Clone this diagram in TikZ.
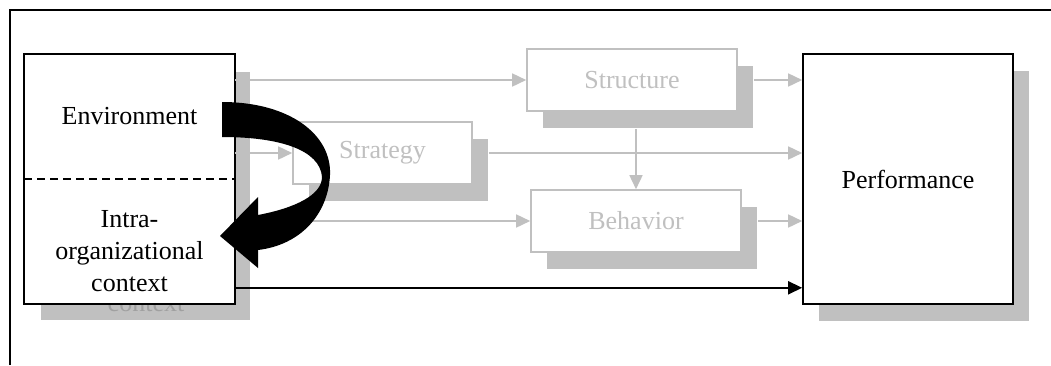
\documentclass[tikz,border=0pt]{standalone}
\usepackage{fontspec}
\setmainfont{Liberation Serif}
\usetikzlibrary{arrows.meta,shadows}
\definecolor{boxgray}{HTML}{C0C0C0}
\definecolor{ghostgray}{HTML}{A0A0A0}
\begin{document}
\begin{tikzpicture}[x=0.5pt,y=-0.5pt,font=\fontsize{13}{16}\selectfont,
    boxshadow/.style={drop shadow={shadow xshift=8pt,shadow yshift=-8.5pt,fill=boxgray,opacity=1}},
    mainbox/.style={rectangle,draw,line width=0.8pt,fill=white,inner sep=0pt,boxshadow},
    sidebox/.style={rectangle,draw=boxgray,line width=0.8pt,fill=white,text=boxgray,inner sep=0pt,boxshadow},
    link/.style={draw=boxgray,line width=0.8pt,-{Triangle[length=7pt,width=6.5pt,fill=boxgray]}},
    mainlink/.style={line width=0.8pt,-{Triangle[length=7pt,width=6.5pt]}}]
  \useasboundingbox (0,0) rectangle (1051,365);
  \draw[line width=1pt] (10,365) -- (10,10) -- (1051,10);
  % left block
  \node[mainbox,minimum width=104.5pt,minimum height=124pt] (ctx) at (129.5,179) {};
  \begin{scope}
    \clip (ctx.south west) rectangle ([shift={(40,40)}]ctx.south east);
    \node[text=ghostgray] (ghost) at (146,304) {context};
  \end{scope}
  \draw[boxshadow/.style={},mainbox] (ctx.north west) rectangle (ctx.south east);
  \draw[line width=0.7pt,dash pattern=on 4pt off 2.5pt] (ctx.west) -- (ctx.east);
  \node (env) at (129.5,116) {Environment};
  \node[align=center] (intra) at (129.5,251) {Intra-\\organizational\\context};
  % middle blocks
  \node[sidebox,minimum width=105pt,minimum height=31pt] (struct) at (632,80) {Structure};
  \node[sidebox,minimum width=89.5pt,minimum height=31pt] (strat) at (382.5,153) {Strategy};
  \node[sidebox,minimum width=105pt,minimum height=31pt] (behav) at (636,221) {Behavior};
  \node[mainbox,minimum width=105pt,minimum height=125pt] (perf) at (908,179) {Performance};
  % connectors
  \coordinate (sbot) at ([yshift=-8.5pt]struct.south);
  \coordinate (low) at ([yshift=8pt]ctx.south east);
  \draw[link] (ctx.east |- struct.west) -- (struct.west);
  \draw[link] (ctx.east |- strat.west) -- (strat.west);
  \draw[link] (ctx.east |- behav.west) -- (behav.west);
  \draw[link] ([xshift=8pt]struct.east) -- (perf.west |- struct.east);
  \draw[link] ([xshift=8pt]strat.east) -- (perf.west |- strat.east);
  \draw[link] ([xshift=8pt]behav.east) -- (perf.west |- behav.east);
  \draw[link] (sbot -| behav.north) -- (behav.north);
  \draw[mainlink] (low) -- (low -| perf.west);
  % curved arrow
  \fill (222,102) .. controls (290,102) and (332,135) .. (330,175)
    .. controls (328,215) and (300,245) .. (258,250)
    -- (258,268) -- (220,236) -- (258,197) -- (258,215)
    .. controls (295,208) and (322,195) .. (322,177)
    .. controls (320,150) and (280,137) .. (222,137) -- cycle;
\end{tikzpicture}
\end{document}
